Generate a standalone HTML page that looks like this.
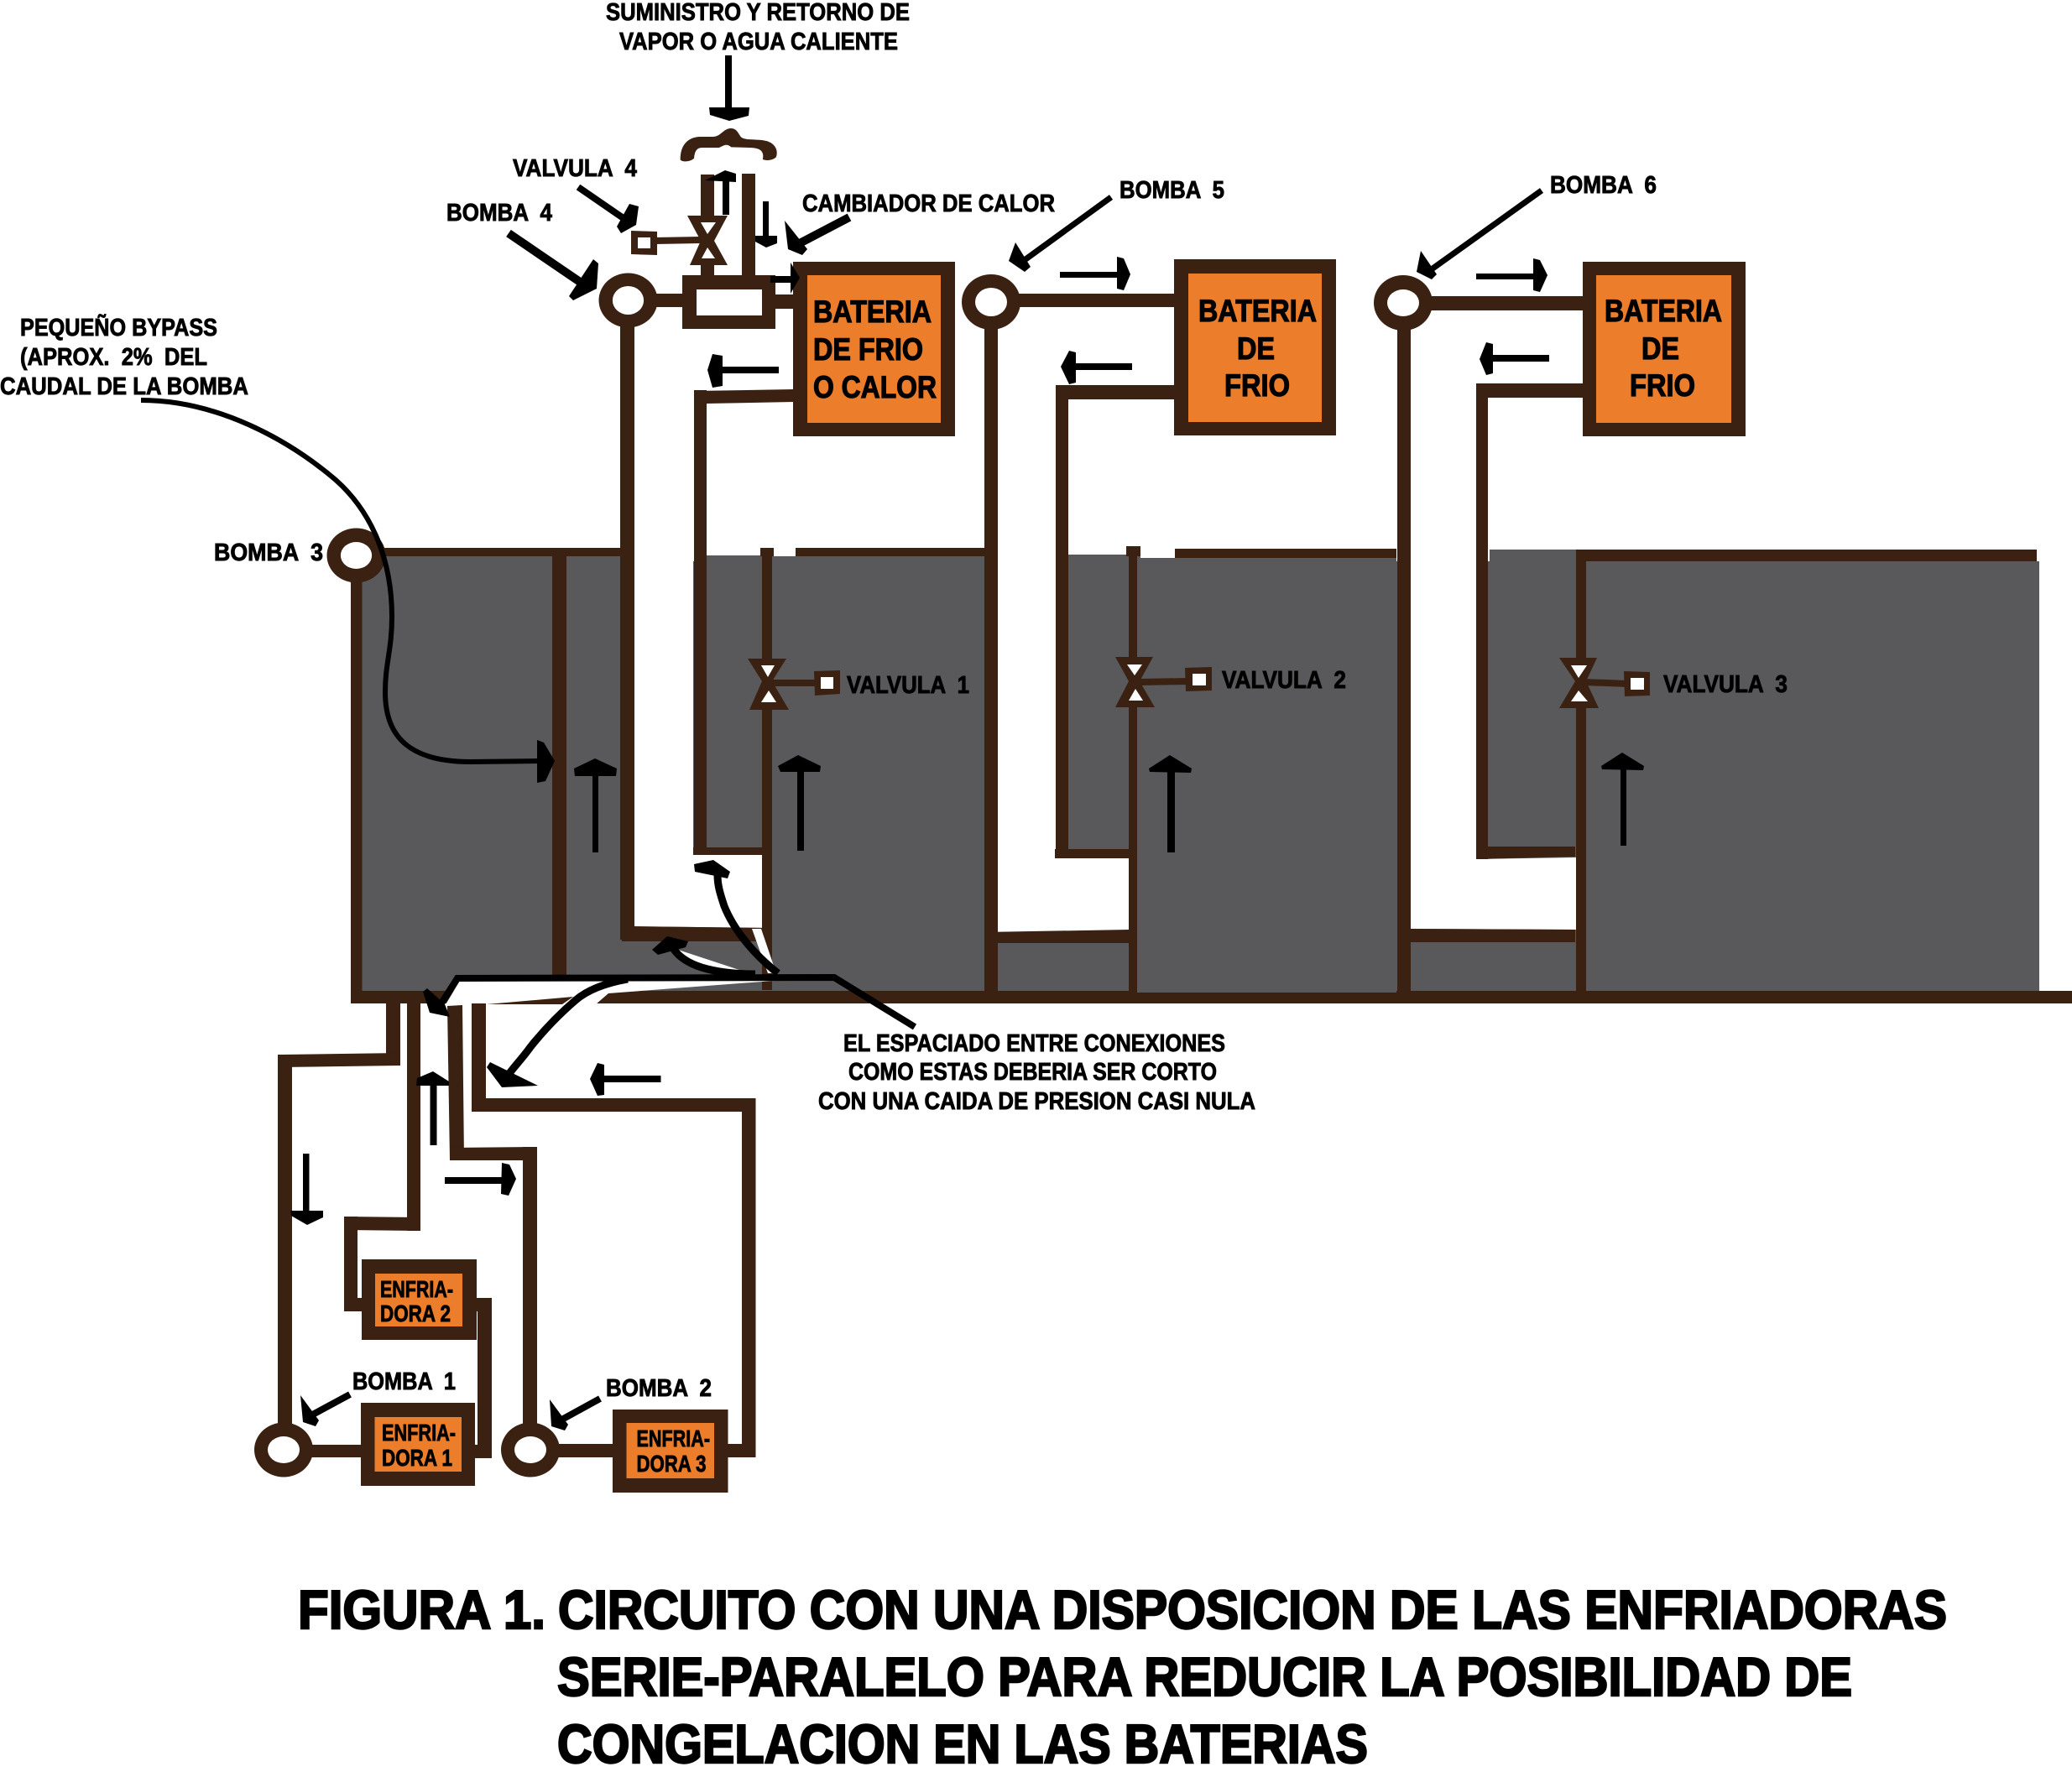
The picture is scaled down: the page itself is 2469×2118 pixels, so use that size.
<!DOCTYPE html>
<html><head><meta charset="utf-8"><style>
html,body{margin:0;padding:0;background:#fff}
svg{display:block}
text{font-family:"Liberation Sans",sans-serif;font-weight:bold;fill:#000;stroke:#000}
.l{font-size:29px;stroke-width:.9px}
.b{font-size:37px;stroke-width:1.2px}
.e{font-size:28px;stroke-width:.9px}
.t{font-size:65px;stroke-width:2.4px}
.br{fill:#3a2111}
.g{fill:#59595b}
.o{fill:#ec7d2a}
.w{fill:#fff}
.k{stroke:#000;fill:none}
</style></head><body>
<svg xmlns="http://www.w3.org/2000/svg" width="2469" height="2118" viewBox="0 0 2469 2118">
<rect width="2469" height="2118" fill="#fff"/>
<!-- gray tank -->
<rect class="g" x="431" y="669" width="1999" height="514"/>
<rect class="g" x="431" y="663" width="309" height="8"/>
<rect class="g" x="842" y="662" width="331" height="8"/>
<rect class="g" x="1272" y="661" width="392" height="10"/>
<rect class="g" x="1775" y="655" width="103" height="16"/>
<!-- white channels -->
<polygon class="w" points="755,640 826,640 826,1019 908,1019 908,1106 755,1104"/>
<polygon class="w" points="1189,640 1258,640 1258,1022 1345,1023 1345,1109 1189,1111"/>
<polygon class="w" points="1681,640 1759,640 1759,1024 1878,1022 1878,1108 1681,1107"/>
<rect class="w" x="922" y="650" width="26" height="13"/>
<rect class="w" x="1359" y="650" width="41" height="15"/>
<!-- main bar -->
<rect class="br" x="418" y="1181" width="2051" height="15"/>
<rect class="g" x="1355" y="1175" width="309" height="8"/>
<!-- tank pipes -->
<rect class="br" x="418" y="660" width="13.5" height="536"/>
<rect class="br" x="450" y="653" width="290" height="10"/>
<rect class="br" x="658" y="655" width="17" height="526"/>
<rect class="br" x="739" y="385" width="17" height="735"/>
<polygon class="br" points="741,1104 920,1106 920,1122 741,1122"/>
<rect class="br" x="827" y="465" width="15" height="554"/>
<polygon class="br" points="827,466 946,464 946,479 842,481"/>
<rect class="br" x="826" y="1010" width="83" height="9"/>
<rect class="br" x="908" y="660" width="12" height="520"/>
<rect class="br" x="906" y="653" width="16" height="10"/>
<rect class="br" x="948" y="653" width="225" height="10"/>

<rect class="br" x="1173" y="385" width="16" height="800"/>
<rect class="br" x="1258" y="459" width="15" height="563"/>
<rect class="br" x="1258" y="459" width="142" height="17"/>
<rect class="br" x="1257" y="1012" width="89" height="11"/>
<polygon class="br" points="1173,1111 1346,1108 1346,1124 1173,1124"/>
<rect class="br" x="1345" y="655" width="10" height="526"/>
<rect class="br" x="1342" y="651" width="17" height="12"/>
<rect class="br" x="1400" y="654" width="264" height="11"/>

<rect class="br" x="1665" y="385" width="16" height="800"/>
<rect class="br" x="1759" y="457" width="14" height="567"/>
<rect class="br" x="1759" y="457" width="127" height="17"/>
<polygon class="br" points="1759,1009 1877,1009 1877,1021 1759,1024"/>
<polygon class="br" points="1665,1107 1877,1108 1877,1123 1665,1123"/>
<rect class="br" x="1878" y="655" width="12" height="526"/>
<rect class="br" x="1878" y="655" width="549" height="14"/>

<!-- top horizontal links -->
<rect class="br" x="770" y="350" width="50" height="16"/>
<rect class="br" x="920" y="351" width="30" height="17"/>
<rect class="br" x="1210" y="350" width="192" height="16"/>
<rect class="br" x="1700" y="353" width="188" height="17"/>

<!-- heat exchanger group -->
<path class="br" stroke="#3a2111" stroke-width="6" transform="translate(800,140) scale(.3333)" d="M35 150C35 100 60 75 100 72L150 72C180 70 185 45 210 42C230 40 235 55 245 70C255 85 290 80 330 85C365 90 380 115 372 140C362 150 340 152 330 148C335 120 320 105 280 105L215 103C200 90 190 95 170 105L110 105C85 105 80 125 78 145C65 155 45 157 35 150Z"/>
<rect class="br" x="835" y="208" width="16" height="122"/>
<rect class="br" x="884" y="207" width="16" height="123"/>
<rect class="br" x="813" y="328" width="111" height="64"/>
<rect class="w" x="830" y="345" width="78" height="31"/>

<!-- valve 4 -->
<polygon class="br" points="819,257 867,257 851,287 867,316 822,316 835,287"/>
<polygon class="w" points="835,265 853,265 843,279"/>
<polygon class="w" points="836,308 852,308 843,295"/>
<polygon class="br" points="780,283 835,282 835,290 780,291"/>
<polygon class="br" points="752,275 783,276 783,304 752,303"/>
<rect class="w" x="760" y="283" width="15" height="13"/>

<!-- valves 1,2,3 -->
<polygon class="br" points="891,785 937,785 920,812 940,846 893,846 908,812"/>
<polygon class="w" points="907,793 923,793 915,807"/>
<polygon class="w" points="907,837 925,837 916,823"/>
<rect class="br" x="920" y="810" width="53" height="8"/>
<polygon class="br" points="970,800 1001,799 1001,827 971,829"/>
<rect class="w" x="978" y="807" width="15" height="14"/>

<polygon class="br" points="1329,783 1374,783 1358,812 1376,843 1329,843 1345,812"/>
<polygon class="w" points="1343,792 1361,792 1352,805"/>
<polygon class="w" points="1345,835 1362,835 1353,821"/>
<polygon class="br" points="1358,809 1416,808 1416,816 1358,817"/>
<polygon class="br" points="1412,796 1444,795 1444,823 1413,824"/>
<rect class="w" x="1421" y="803" width="16" height="14"/>

<polygon class="br" points="1858,784 1903,784 1890,812 1905,844 1858,844 1877,812"/>
<polygon class="w" points="1872,793 1891,793 1881,808"/>
<polygon class="w" points="1872,836 1892,836 1881,823"/>
<polygon class="br" points="1888,809 1939,811 1939,819 1888,817"/>
<polygon class="br" points="1935,800 1966,801 1966,829 1936,830"/>
<rect class="w" x="1943" y="808" width="16" height="14"/>

<!-- pumps -->
<ellipse class="br" cx="748.5" cy="358" rx="35" ry="32.5"/><ellipse class="w" cx="748.5" cy="358" rx="18.6" ry="17"/>
<ellipse class="br" cx="1181" cy="360" rx="35" ry="33"/><ellipse class="w" cx="1181" cy="360" rx="19" ry="17"/>
<ellipse class="br" cx="1672" cy="361" rx="35" ry="33"/><ellipse class="w" cx="1672" cy="361" rx="19" ry="16"/>
<ellipse class="br" cx="424.5" cy="662" rx="35" ry="32.5"/><ellipse class="w" cx="424.5" cy="662" rx="18.6" ry="16"/>

<!-- batteries -->
<rect class="br" x="945" y="312" width="193" height="208"/><rect class="o" x="962" y="328" width="159" height="176"/>
<rect class="br" x="1399" y="309" width="193" height="210"/><rect class="o" x="1416" y="326" width="159" height="177"/>
<rect class="br" x="1886" y="312" width="194" height="208"/><rect class="o" x="1902" y="328" width="161" height="176"/>

<!-- lower piping -->
<polygon class="w" points="530,1199 548,1169 935,1168 725,1184 710,1197 580,1197"/>
<polygon class="br" points="580,1197 683,1188 670,1197"/>
<polygon class="w" points="896,1107 907,1107 925,1160 915,1160"/>
<polygon class="w" points="808,1132 887,1158 846,1156 815,1142"/>
<rect class="br" x="460" y="1196" width="17" height="74"/>
<polygon class="br" points="335,1257 477,1255 477,1270 335,1272"/>
<rect class="br" x="331" y="1257" width="17" height="450"/>
<rect class="br" x="485" y="1196" width="16" height="271"/>
<polygon class="br" points="410,1450 500,1451 500,1467 410,1466"/>
<rect class="br" x="410" y="1450" width="16" height="113"/>
<rect class="br" x="410" y="1547" width="25" height="16"/>
<polygon class="br" points="533,1199 551,1198 553,1383 536,1383"/>
<polygon class="br" points="536,1368 640,1367 640,1383 536,1383"/>
<rect class="br" x="623" y="1367" width="17" height="335"/>
<rect class="br" x="562" y="1196" width="17" height="129"/>
<rect class="br" x="563" y="1309" width="337" height="16"/>
<rect class="br" x="884" y="1309" width="16.5" height="428"/>
<rect class="br" x="860" y="1721" width="40" height="16"/>
<rect class="br" x="565" y="1547" width="21" height="16"/>
<rect class="br" x="569" y="1547" width="17" height="191"/>
<rect class="br" x="560" y="1722" width="26" height="16"/>
<rect class="br" x="365" y="1722" width="70" height="15"/>
<rect class="br" x="660" y="1721" width="75" height="16"/>
<ellipse class="br" cx="338" cy="1728" rx="35" ry="32.5"/><ellipse class="w" cx="338" cy="1728" rx="19" ry="16"/>
<ellipse class="br" cx="632" cy="1728" rx="35" ry="32.5"/><ellipse class="w" cx="632" cy="1728" rx="19" ry="16"/>
<rect class="br" x="431" y="1501" width="137" height="96"/><rect class="o" x="447" y="1518" width="104" height="63"/>
<rect class="br" x="430" y="1672" width="136" height="99"/><rect class="o" x="446.5" y="1689" width="103.5" height="65"/>
<rect class="br" x="730" y="1680" width="137.5" height="99"/><rect class="o" x="746.5" y="1696" width="104.5" height="66"/>

<!-- straight black arrows -->
<rect x="864" y="66" width="8" height="66"/><polygon points="845,128 893,128 892,138 869,144 846,137"/>
<rect x="861" y="212" width="8" height="44"/><polygon points="840,215 864,203 877,207 877,217"/>
<rect x="909" y="240" width="7" height="44"/><polygon points="900,281 926,281 926,290 913,295 900,288"/>
<rect x="918" y="329" width="28" height="8"/><polygon points="942,313 953,331 942,350"/>
<rect x="857" y="437" width="71" height="8"/><polygon points="843,441 849,422 861,424 861,460 849,462"/>
<rect x="1263" y="324" width="70" height="7"/><polygon points="1331,306 1339,308 1347,327 1339,346 1331,344"/>
<rect x="1282" y="433" width="67" height="8"/><polygon points="1264,437 1274,418 1282,420 1282,456 1274,458"/>
<rect x="1759" y="326" width="71" height="7"/><polygon points="1827,308 1835,310 1844,328 1835,348 1827,346"/>
<rect x="1778" y="423" width="68" height="8"/><polygon points="1763,428 1771,408 1779,410 1779,445 1771,447"/>
<rect x="706" y="920" width="7" height="96"/><polygon points="709,904 735,916 734,925 685,925 684,916"/>
<rect x="950" y="918" width="8" height="96"/><polygon points="951,900 978,913 977,920 930,920 927,913"/>
<rect x="1391" y="918" width="9" height="98"/><polygon points="1394,900 1420,916 1419,921 1370,920 1369,916"/>
<rect x="1931" y="915" width="7" height="93"/><polygon points="1933,897 1959,913 1958,918 1909,917 1908,913"/>
<rect x="512.5" y="1292" width="8" height="73"/><polygon points="496,1294 497,1285 516,1277 535,1289 535,1294"/>
<rect x="717" y="1282" width="70.5" height="8"/><polygon points="703,1286 712,1267 720,1269 720,1305 712,1306"/>
<rect x="361" y="1375" width="7.5" height="70"/><polygon points="346,1443 385,1443 385,1451 366,1460 347,1449"/>
<rect x="530" y="1403" width="71" height="8"/><polygon points="598,1386 607,1388 615,1405 606,1425 597,1423"/>

<!-- pointer arrows -->
<line class="k" stroke-width="8" x1="689" y1="223" x2="750" y2="265"/><polygon points="750,243 761,246 758,268 740,278 735,270"/>
<line class="k" stroke-width="10" x1="606" y1="278" x2="694" y2="338"/><polygon points="707,309 713,314 711,344 683,358 678,353"/>
<line class="k" stroke-width="10" x1="1012" y1="259" x2="949" y2="292"/><polygon points="935,263 962,297 956,304 939,297"/>
<line class="k" stroke-width="7" x1="1324" y1="235" x2="1218" y2="312"/><polygon points="1210,289 1228,318 1221,324 1202,311"/>
<line class="k" stroke-width="7" x1="1837" y1="227" x2="1703" y2="323"/><polygon points="1693,299 1712,327 1706,333 1688,324"/>
<line class="k" stroke-width="8" x1="417" y1="1662" x2="367" y2="1689"/><polygon points="358,1663 380,1693 376,1700 361,1695"/>
<line class="k" stroke-width="8" x1="715" y1="1667" x2="664" y2="1695"/><polygon points="655,1668 677,1698 673,1705 657,1700"/>

<!-- bypass curve -->
<path class="k" stroke-width="6" d="M168 477C260 477 345 525 400 572C445 612 467 670 467 735C467 775 459 790 459 825C459 880 490 908 561 908L642 907"/>
<polygon points="640,882 648,885 661,907 650,931 640,933"/>

<!-- callout lines -->
<polyline class="k" stroke-width="8" points="1090,1224 994,1165 545,1166 524,1199" />
<polygon points="504,1182 509,1178 530,1197 536,1212 512,1207"/>
<path class="k" stroke-width="9" d="M927 1160C895 1135 873 1105 863 1080C858 1065 855 1055 855 1043"/>
<polygon points="827,1030 850,1025 870,1039 867,1047 828,1039"/>
<path class="k" stroke-width="9" d="M900 1161C870 1161 846 1157 830 1151C815 1145 807 1138 802 1130"/>
<polygon points="777,1132 795,1116 820,1122 817,1129 784,1138"/>
<path class="k" stroke-width="9" d="M748 1167C720 1172 700 1180 686 1192C665 1210 648 1228 632 1248C622 1262 612 1272 605 1282"/>
<polygon points="584,1266 641,1294 598,1296 580,1272"/>

<!-- labels -->
<text class="l" x="722" y="24" textLength="362" lengthAdjust="spacingAndGlyphs">SUMINISTRO Y RETORNO DE</text>
<text class="l" x="738" y="59" textLength="332" lengthAdjust="spacingAndGlyphs">VAPOR O AGUA CALIENTE</text>
<text class="l" x="611" y="210" textLength="148" lengthAdjust="spacingAndGlyphs" xml:space="preserve">VALVULA  4</text>
<text class="l" x="532" y="263" textLength="126" lengthAdjust="spacingAndGlyphs" xml:space="preserve">BOMBA  4</text>
<text class="l" x="956" y="252" textLength="301" lengthAdjust="spacingAndGlyphs">CAMBIADOR DE CALOR</text>
<text class="l" x="1334" y="236" textLength="125" lengthAdjust="spacingAndGlyphs" xml:space="preserve">BOMBA  5</text>
<text class="l" x="1847" y="230" textLength="127" lengthAdjust="spacingAndGlyphs" xml:space="preserve">BOMBA  6</text>
<text class="l" x="24" y="400" textLength="235" lengthAdjust="spacingAndGlyphs">PEQUEÑO BYPASS</text>
<text class="l" x="24" y="435" textLength="223" lengthAdjust="spacingAndGlyphs" xml:space="preserve">(APROX.  2%  DEL</text>
<text class="l" x="0" y="470" textLength="296" lengthAdjust="spacingAndGlyphs">CAUDAL DE LA BOMBA</text>
<text class="l" x="255" y="668" textLength="130" lengthAdjust="spacingAndGlyphs" xml:space="preserve">BOMBA  3</text>
<text class="l" x="1009" y="826" textLength="146" lengthAdjust="spacingAndGlyphs" xml:space="preserve">VALVULA  1</text>
<text class="l" x="1456" y="820" textLength="148" lengthAdjust="spacingAndGlyphs" xml:space="preserve">VALVULA  2</text>
<text class="l" x="1982" y="825" textLength="148" lengthAdjust="spacingAndGlyphs" xml:space="preserve">VALVULA  3</text>
<text class="l" x="1005" y="1253" textLength="455" lengthAdjust="spacingAndGlyphs">EL ESPACIADO ENTRE CONEXIONES</text>
<text class="l" x="1011" y="1287" textLength="439" lengthAdjust="spacingAndGlyphs">COMO ESTAS DEBERIA SER CORTO</text>
<text class="l" x="975" y="1322" textLength="521" lengthAdjust="spacingAndGlyphs">CON UNA CAIDA DE PRESION CASI NULA</text>
<text class="l" x="420" y="1656" textLength="123" lengthAdjust="spacingAndGlyphs" xml:space="preserve">BOMBA  1</text>
<text class="l" x="722" y="1664" textLength="126" lengthAdjust="spacingAndGlyphs" xml:space="preserve">BOMBA  2</text>

<text class="b" x="969" y="384" textLength="141" lengthAdjust="spacingAndGlyphs">BATERIA</text>
<text class="b" x="969" y="429" textLength="131" lengthAdjust="spacingAndGlyphs">DE FRIO</text>
<text class="b" x="969" y="474" textLength="147" lengthAdjust="spacingAndGlyphs">O CALOR</text>
<text class="b" x="1428" y="383" textLength="141" lengthAdjust="spacingAndGlyphs">BATERIA</text>
<text class="b" x="1474" y="428" textLength="45" lengthAdjust="spacingAndGlyphs">DE</text>
<text class="b" x="1459" y="472" textLength="78" lengthAdjust="spacingAndGlyphs">FRIO</text>
<text class="b" x="1912" y="383" textLength="140" lengthAdjust="spacingAndGlyphs">BATERIA</text>
<text class="b" x="1956" y="428" textLength="45" lengthAdjust="spacingAndGlyphs">DE</text>
<text class="b" x="1942" y="472" textLength="78" lengthAdjust="spacingAndGlyphs">FRIO</text>

<text class="e" x="453" y="1546" textLength="87" lengthAdjust="spacingAndGlyphs">ENFRIA-</text>
<text class="e" x="453" y="1575" textLength="84" lengthAdjust="spacingAndGlyphs">DORA 2</text>
<text class="e" x="455" y="1717" textLength="88" lengthAdjust="spacingAndGlyphs">ENFRIA-</text>
<text class="e" x="455" y="1747" textLength="84" lengthAdjust="spacingAndGlyphs">DORA 1</text>
<text class="e" x="758.5" y="1724" textLength="87.5" lengthAdjust="spacingAndGlyphs">ENFRIA-</text>
<text class="e" x="758.5" y="1754" textLength="83" lengthAdjust="spacingAndGlyphs">DORA 3</text>

<text class="t" x="355" y="1941" textLength="295" lengthAdjust="spacingAndGlyphs">FIGURA 1.</text>
<text class="t" x="665" y="1941" textLength="1655" lengthAdjust="spacingAndGlyphs">CIRCUITO CON UNA DISPOSICION DE LAS ENFRIADORAS</text>
<text class="t" x="664" y="2021" textLength="1543" lengthAdjust="spacingAndGlyphs">SERIE-PARALELO PARA REDUCIR LA POSIBILIDAD DE</text>
<text class="t" x="664" y="2101" textLength="966" lengthAdjust="spacingAndGlyphs">CONGELACION EN LAS BATERIAS</text>
</svg>
</body></html>
